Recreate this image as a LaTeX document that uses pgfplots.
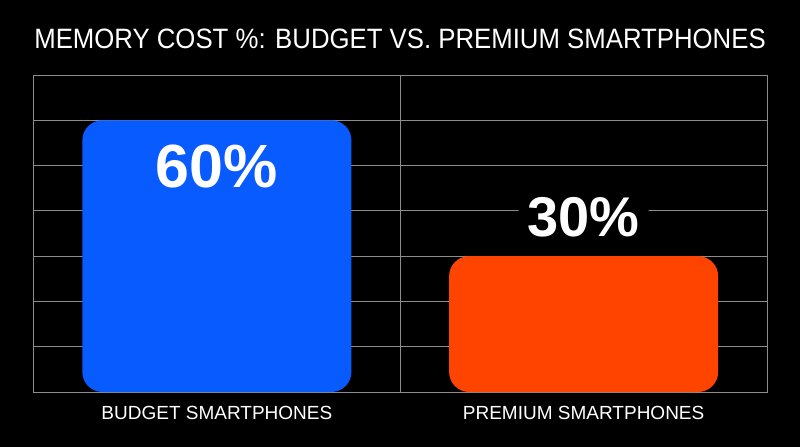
\documentclass[border=0pt]{standalone}
\usepackage{graphicx}
\usepackage{pgfplots}
\pgfplotsset{compat=1.18}
\usepackage{fontspec}
\setmainfont{Liberation Sans}
\definecolor{barblue}{HTML}{085BFE}
\definecolor{barorange}{HTML}{FF4400}
\definecolor{gridgray}{HTML}{8C8C8C}
\begin{document}
\begin{tikzpicture}
\useasboundingbox (0,0) rectangle (600pt,335.25pt);
\fill[black] (0,0) rectangle (600pt,335.25pt);
\begin{axis}[
  at={(25.125pt,41.25pt)}, anchor=south west,
  scale only axis, width=550.125pt, height=237.75pt,
  xmin=-0.5, xmax=1.5, ymin=0, ymax=70,
  xtick={0,1},
  xticklabels={BUDGET SMARTPHONES, PREMIUM SMARTPHONES},
  minor xtick={0.5}, xminorgrids,
  ytick={0,10,...,70}, yticklabel=\empty, ymajorgrids,
  major tick length=0pt, minor tick length=0pt,
  axis line style={gridgray, line width=0.75pt},
  grid style={gridgray, line width=0.75pt},
  minor grid style={gridgray, line width=0.75pt},
  xticklabel style={font=\fontsize{14.25pt}{14.25pt}\selectfont, text=white, anchor=base, yshift=-20.25pt, inner sep=0pt},
  /pgf/number format/assume math mode=true,
  ybar, bar width=0.7335, bar shift=0pt,
  clip=false,
]
\addplot[fill=barblue, draw=none, rounded corners=15pt,
  nodes near coords={\pgfmathprintnumber[assume math mode=true]{\pgfplotspointmeta}\%},
  every node near coord/.append style={anchor=north, yshift=-18.4pt, inner sep=0pt, text=white, font=\fontsize{45.75pt}{45.75pt}\selectfont\bfseries}]
  coordinates {(0,60)};
\addplot[fill=barorange, draw=none, rounded corners=15pt,
  nodes near coords={\pgfmathprintnumber[assume math mode=true]{\pgfplotspointmeta}\%},
  every node near coord/.append style={anchor=south, yshift=7.1pt, inner sep=6.75pt, fill=black, text=white, font=\fontsize{42pt}{42pt}\selectfont\bfseries}]
  coordinates {(1,30)};
\end{axis}
\node[anchor=base, text=white, inner sep=0pt, font=\fontsize{21pt}{21pt}\selectfont] at (300pt,299pt) {\scalebox{0.92}[1]{MEMORY COST \%: BUDGET VS. PREMIUM SMARTPHONES}};
\end{tikzpicture}
\end{document}
